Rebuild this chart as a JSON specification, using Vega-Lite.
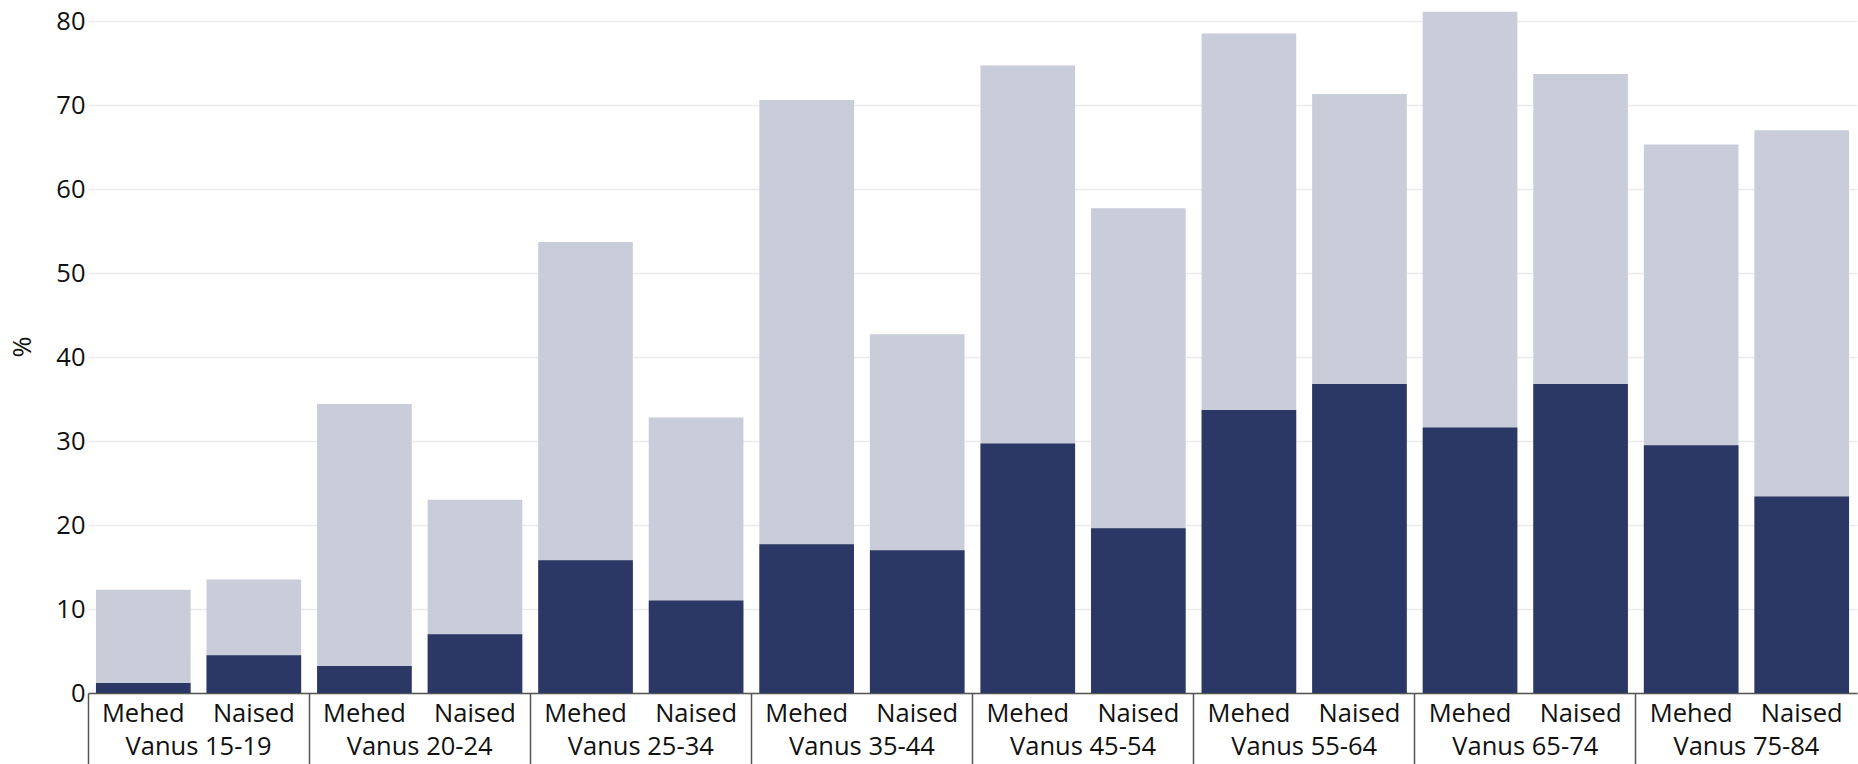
{
  "$schema": "https://vega.github.io/schema/vega-lite/v6.json",
  "width": 1769,
  "height": 693,
  "autosize": {"type": "none"},
  "padding": {"left": 88, "top": 0, "right": 1, "bottom": 71},
  "background": "white",
  "config": {
    "view": {"stroke": null},
    "font": "Open Sans",
    "axis": {"labelFont": "Open Sans", "titleFont": "Open Sans"}
  },
  "data": {
    "values": [
      {"group": "Vanus 15-19", "sex": "Mehed", "key": "Vanus 15-19|Mehed", "total": 12.3, "part": 1.2},
      {"group": "Vanus 15-19", "sex": "Naised", "key": "Vanus 15-19|Naised", "total": 13.5, "part": 4.5},
      {"group": "Vanus 20-24", "sex": "Mehed", "key": "Vanus 20-24|Mehed", "total": 34.4, "part": 3.2},
      {"group": "Vanus 20-24", "sex": "Naised", "key": "Vanus 20-24|Naised", "total": 23.0, "part": 7.0},
      {"group": "Vanus 25-34", "sex": "Mehed", "key": "Vanus 25-34|Mehed", "total": 53.7, "part": 15.8},
      {"group": "Vanus 25-34", "sex": "Naised", "key": "Vanus 25-34|Naised", "total": 32.8, "part": 11.0},
      {"group": "Vanus 35-44", "sex": "Mehed", "key": "Vanus 35-44|Mehed", "total": 70.6, "part": 17.7},
      {"group": "Vanus 35-44", "sex": "Naised", "key": "Vanus 35-44|Naised", "total": 42.7, "part": 17.0},
      {"group": "Vanus 45-54", "sex": "Mehed", "key": "Vanus 45-54|Mehed", "total": 74.7, "part": 29.7},
      {"group": "Vanus 45-54", "sex": "Naised", "key": "Vanus 45-54|Naised", "total": 57.7, "part": 19.6},
      {"group": "Vanus 55-64", "sex": "Mehed", "key": "Vanus 55-64|Mehed", "total": 78.5, "part": 33.7},
      {"group": "Vanus 55-64", "sex": "Naised", "key": "Vanus 55-64|Naised", "total": 71.3, "part": 36.8},
      {"group": "Vanus 65-74", "sex": "Mehed", "key": "Vanus 65-74|Mehed", "total": 81.1, "part": 31.6},
      {"group": "Vanus 65-74", "sex": "Naised", "key": "Vanus 65-74|Naised", "total": 73.7, "part": 36.8},
      {"group": "Vanus 75-84", "sex": "Mehed", "key": "Vanus 75-84|Mehed", "total": 65.3, "part": 29.5},
      {"group": "Vanus 75-84", "sex": "Naised", "key": "Vanus 75-84|Naised", "total": 67.0, "part": 23.4}
    ]
  },
  "layer": [
    {
      "layer": [
        {
          "mark": {"type": "bar", "color": "#c9ccd9"},
          "encoding": {
            "x": {
              "field": "key", "type": "nominal", "sort": null,
              "scale": {"paddingInner": 0.144, "paddingOuter": 0.072},
              "axis": {
                "title": null, "labelExpr": "split(datum.label, '|')[1]",
                "ticks": false, "domain": true, "domainColor": "#555555", "domainWidth": 1.5,
                "labelAngle": 0, "labelFontSize": 25.5, "labelColor": "#111111", "labelPadding": 8, "grid": false
              }
            },
            "y": {
              "field": "total", "type": "quantitative",
              "scale": {"domain": [0, 82.5], "nice": false},
              "axis": {
                "title": "%", "values": [0, 10, 20, 30, 40, 50, 60, 70, 80],
                "domain": false, "ticks": false, "grid": true, "gridColor": "#ebebeb", "gridWidth": 1.5,
                "labelFontSize": 25.5, "labelColor": "#111111", "labelPadding": 3,
                "titleFontSize": 25.5, "titleFontWeight": "normal", "titleColor": "#111111", "titlePadding": 20
              }
            }
          }
        },
        {
          "mark": {"type": "bar", "color": "#2b3765"},
          "encoding": {
            "x": {"field": "key", "type": "nominal", "sort": null},
            "y": {"field": "part", "type": "quantitative"}
          }
        }
      ]
    },
    {
      "mark": {"type": "bar", "opacity": 0},
      "encoding": {
        "x": {
          "field": "group", "type": "nominal", "sort": null,
          "scale": {"paddingInner": 0, "paddingOuter": 0},
          "axis": {
            "title": null, "orient": "bottom", "domain": false, "ticks": true, "bandPosition": 0,
            "tickSize": 75, "tickColor": "#555555", "tickWidth": 1.5,
            "labelAngle": 0, "labelFontSize": 25.5, "labelColor": "#111111", "labelPadding": -34, "grid": false
          }
        }
      }
    }
  ],
  "resolve": {"scale": {"x": "independent"}}
}
